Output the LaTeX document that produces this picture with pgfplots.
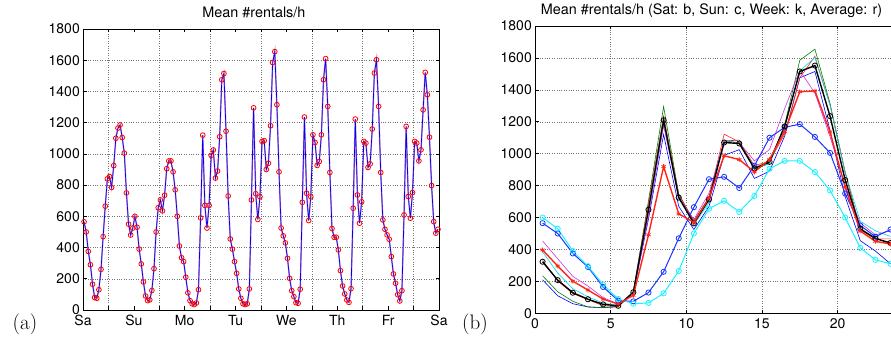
\documentclass[border=0pt]{standalone}
\usepackage{pgfplots}
\pgfplotsset{compat=1.18}
\usepackage{pgfplotstable}
\usepackage{fontspec}
\newfontfamily\hel{TeX Gyre Heros}
\definecolor{mgreen}{rgb}{0,0.5,0}
\definecolor{mblue}{rgb}{0.1,0.2,1}
\definecolor{mred}{rgb}{1,0.15,0.1}
\definecolor{mmag}{rgb}{0.8,0.2,0.9}
\definecolor{mcyan}{rgb}{0,0.85,0.9}
\definecolor{mcyanb}{rgb}{0.1,0.95,1}
\pgfplotstableread{
h sa su mo tu we th fr wk av
0.5 565 600 210 235 331 385 453 323 397
1.5 500 530 110 135 203 252 342 208 296
2.5 375 390 60 75 124 154 231 129 201
3.5 290 295 40 40 86 103 171 88 146
4.5 165 180 35 35 47 64 98 56 89
5.5 80 90 45 40 43 49 58 47 58
6.5 75 60 130 135 133 137 124 132 113
7.5 130 65 590 705 690 652 609 649 492
8.5 260 125 1120 1295 1236 1223 1176 1210 919
9.5 470 265 670 745 748 737 727 725 623
10.5 665 500 525 580 573 556 588 564 570
11.5 840 655 670 725 725 693 752 713 723
12.5 855 705 990 1080 1122 1080 1080 1070 987
13.5 785 635 1025 1085 1073 1069 1069 1064 963
14.5 925 735 845 900 926 913 955 908 886
15.5 1100 905 890 940 951 936 1026 949 964
16.5 1165 955 1110 1180 1122 1159 1282 1171 1139
17.5 1185 955 1475 1585 1475 1518 1522 1515 1388
18.5 1105 885 1515 1655 1610 1603 1379 1552 1393
19.5 1005 770 1145 1315 1304 1304 1107 1235 1136
20.5 750 600 730 885 881 881 797 835 789
21.5 550 410 455 525 522 577 566 529 515
22.5 480 335 390 475 466 517 492 468 451
23.5 525 310 310 430 466 481 517 441 434
}\daydata
\pgfplotstableread{
x y
0.5 565
1.5 500
2.5 375
3.5 290
4.5 165
5.5 80
6.5 75
7.5 130
8.5 260
9.5 470
10.5 665
11.5 840
12.5 855
13.5 785
14.5 925
15.5 1100
16.5 1165
17.5 1185
18.5 1105
19.5 1005
20.5 750
21.5 550
22.5 480
23.5 525
24.5 600
25.5 530
26.5 390
27.5 295
28.5 180
29.5 90
30.5 60
31.5 65
32.5 125
33.5 265
34.5 500
35.5 655
36.5 705
37.5 635
38.5 735
39.5 905
40.5 955
41.5 955
42.5 885
43.5 770
44.5 600
45.5 410
46.5 335
47.5 310
48.5 210
49.5 110
50.5 60
51.5 40
52.5 35
53.5 45
54.5 130
55.5 590
56.5 1120
57.5 670
58.5 525
59.5 670
60.5 990
61.5 1025
62.5 845
63.5 890
64.5 1110
65.5 1475
66.5 1515
67.5 1145
68.5 730
69.5 455
70.5 390
71.5 310
72.5 235
73.5 135
74.5 75
75.5 40
76.5 35
77.5 40
78.5 135
79.5 705
80.5 1295
81.5 745
82.5 580
83.5 725
84.5 1080
85.5 1085
86.5 900
87.5 940
88.5 1180
89.5 1585
90.5 1655
91.5 1315
92.5 885
93.5 525
94.5 475
95.5 430
96.5 331
97.5 203
98.5 124
99.5 86
100.5 47
101.5 43
102.5 133
103.5 690
104.5 1236
105.5 748
106.5 573
107.5 725
108.5 1122
109.5 1073
110.5 926
111.5 951
112.5 1122
113.5 1475
114.5 1610
115.5 1304
116.5 881
117.5 522
118.5 466
119.5 466
120.5 385
121.5 252
122.5 154
123.5 103
124.5 64
125.5 49
126.5 137
127.5 652
128.5 1223
129.5 737
130.5 556
131.5 693
132.5 1080
133.5 1069
134.5 913
135.5 936
136.5 1159
137.5 1518
138.5 1603
139.5 1304
140.5 881
141.5 577
142.5 517
143.5 481
144.5 453
145.5 342
146.5 231
147.5 171
148.5 98
149.5 58
150.5 124
151.5 609
152.5 1176
153.5 727
154.5 588
155.5 752
156.5 1080
157.5 1069
158.5 955
159.5 1026
160.5 1282
161.5 1522
162.5 1379
163.5 1107
164.5 797
165.5 566
166.5 492
167.5 517
}\weekdata
\pgfplotsset{
  mat/.style={
    scale only axis,
    ymin=0, ymax=1800, ytick={0,200,...,1800},
    /pgf/number format/assume math mode=true,
    /pgf/number format/1000 sep={},
    every tick label/.append style={font=\hel\fontsize{14}{16}\selectfont},
    xticklabel style={inner sep=0pt, anchor=north, yshift=-5pt},
    yticklabel style={inner sep=0pt, anchor=east, xshift=-3pt},
    grid=major,
    major grid style={dotted, black!55, line width=0.5pt},
    axis line style={line width=0.8pt},
    major tick length=3.5pt,
    tick style={black, line width=0.6pt},
  }
}
\begin{document}
\begin{tikzpicture}
\useasboundingbox (0,0) rectangle (891pt,337pt);
\begin{axis}[mat,
  at={(83pt,27pt)}, anchor=south west,
  width=356pt, height=281pt,
  xmin=0, xmax=168,
  xtick={12,36,...,156}, xticklabels={,,,,,,},
  extra x ticks={0,24,...,168},
  extra x tick labels={Sa,Su,Mo,Tu,We,Th,Fr,Sa},
  extra x tick style={grid=none},
  title={Mean \#rentals/h},
  every axis title/.style={font=\hel\fontsize{14.4}{16}\selectfont, inner sep=0pt, anchor=base, at={(rel axis cs:0.48,1)}, yshift=11pt},
]
\addplot[red!55!blue, line width=1.5pt, opacity=0.45, forget plot] table[x=x, y=y] {\weekdata};
\addplot[only marks, mark=o, mark size=2.4pt, mark options={red, line width=0.8pt}] table[x=x, y=y] {\weekdata};
\addplot[blue, line width=0.7pt] table[x=x, y=y] {\weekdata};
\end{axis}
\begin{axis}[mat,
  at={(535pt,23.7pt)}, anchor=south west,
  width=356pt, height=287.3pt,
  xmin=0, xmax=23.53,
  xtick={0,5,...,20},
  axis y line*=left,
  title={Mean \#rentals/h (Sat: b, Sun: c, Week: k, Average: r)},
  every axis title/.style={font=\hel\fontsize{14.4}{16}\selectfont, inner sep=0pt, anchor=base, at={(rel axis cs:0.496,1)}, yshift=11pt},
]
\addplot[blue, line width=0.6pt] table[x=h, y=mo] {\daydata};
\addplot[mgreen, line width=0.6pt] table[x=h, y=tu] {\daydata};
\addplot[mred, line width=0.6pt] table[x=h, y=we] {\daydata};
\addplot[mcyan, line width=0.6pt] table[x=h, y=th] {\daydata};
\addplot[mmag, line width=0.6pt] table[x=h, y=fr] {\daydata};
\addplot[mblue, line width=1pt, mark=o, mark size=2.6pt, mark options={line width=0.8pt}] table[x=h, y=sa] {\daydata};
\addplot[mcyanb, line width=1pt, mark=o, mark size=2.6pt, mark options={line width=0.8pt}] table[x=h, y=su] {\daydata};
\addplot[black, line width=1.4pt, mark=o, mark size=2.6pt, mark options={line width=0.8pt}] table[x=h, y=wk] {\daydata};
\addplot[mred, line width=1.4pt, mark=asterisk, mark size=2.4pt, mark options={line width=0.8pt}] table[x=h, y=av] {\daydata};
\end{axis}
\node[font=\fontsize{21}{24}\selectfont, anchor=base] at (25pt,7.3pt) {(a)};
\node[font=\fontsize{21}{24}\selectfont, anchor=base] at (475pt,7.3pt) {(b)};
\end{tikzpicture}
\end{document}
